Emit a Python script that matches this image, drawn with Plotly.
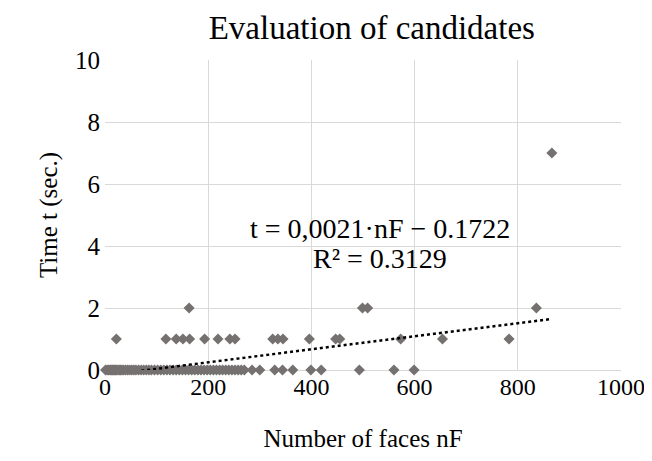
import plotly.graph_objects as go

# Data
nf_t0 = [1, 4, 7, 10, 12, 14, 16, 18, 20, 22, 25, 28, 30, 33, 36, 40, 44, 48, 52, 56,
         60, 65, 70, 75, 80, 85, 90, 96, 102, 108, 114, 120, 126, 132, 138, 144, 150,
         156, 162, 168, 174, 180, 186, 192, 198, 204, 210, 216, 222, 228, 234, 240,
         246, 252, 258, 264, 270, 285, 300, 329, 344, 364, 399, 419, 493, 560, 599]
nf_t1 = [22, 118, 138, 151, 164, 193, 219, 242, 252, 325, 335, 345, 396, 447, 455, 573, 654, 783]
nf_t2 = [163, 499, 509, 836]
nf_t7 = [866]

nf = nf_t0 + nf_t1 + nf_t2 + nf_t7
t = [0] * len(nf_t0) + [1] * len(nf_t1) + [2] * len(nf_t2) + [7] * len(nf_t7)

slope = 0.0021
intercept = -0.1722

fig = go.Figure()
fig.add_trace(go.Scatter(
    x=nf, y=t, mode="markers",
    marker=dict(symbol="diamond", size=8.5, color="#767171"),
    showlegend=False, cliponaxis=False,
))
x0, x1 = min(nf), max(nf)
fig.add_trace(go.Scatter(
    x=[x0, x1], y=[slope * x0 + intercept, slope * x1 + intercept],
    mode="lines", line=dict(color="black", width=2.5, dash="dot"),
    showlegend=False,
))

font = "Liberation Serif, Times New Roman, serif"
fig.update_layout(
    width=652, height=461,
    margin=dict(l=97, r=39, t=52, b=99),
    paper_bgcolor="white", plot_bgcolor="white",
    font=dict(family=font, size=25, color="black"),
    title=dict(text="Evaluation of candidates", x=0.558, xanchor="center",
               y=0.957, yanchor="middle", font=dict(size=33, family=font, color="black")),
    xaxis=dict(range=[0, 1000], dtick=200, showgrid=True, gridcolor="#d9d9d9",
               gridwidth=1, zeroline=False, showline=False, ticks="",
               title=dict(text="Number of faces nF", font=dict(size=25, family=font, color="black"), standoff=30),
               tickfont=dict(size=24, family=font, color="black")),
    yaxis=dict(range=[0, 10], dtick=2, showgrid=True, gridcolor="#d9d9d9",
               gridwidth=1, zeroline=True, zerolinecolor="#d9d9d9", zerolinewidth=1,
               showline=False, ticks="", ticklabelstandoff=4,
               title=dict(text="Time t (sec.)", font=dict(size=25, family=font, color="black"), standoff=10),
               tickfont=dict(size=25, family=font, color="black")),
    annotations=[
        dict(text="t = 0,0021·nF − 0.1722", x=0.533, y=(370 - 228) / 310,
             xref="paper", yref="paper", showarrow=False,
             font=dict(size=28, family=font, color="black")),
        dict(text="R² = 0.3129", x=0.533, y=(370 - 258) / 310,
             xref="paper", yref="paper", showarrow=False,
             font=dict(size=28, family=font, color="black")),
    ],
)
fig.write_html("out.html")
